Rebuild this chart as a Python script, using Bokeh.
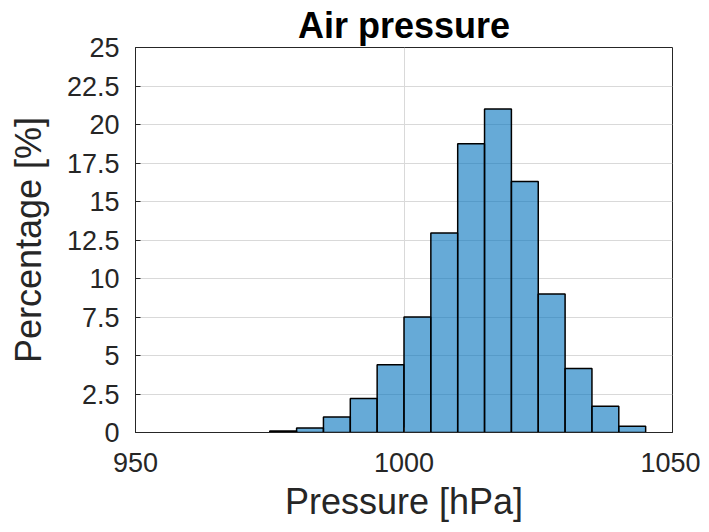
from bokeh.plotting import figure
from bokeh.models import FixedTicker, CustomJSTickFormatter, Range1d, ColumnDataSource
from bokeh.embed import file_html
from bokeh.resources import INLINE

# Data
bin_left = [975, 980, 985, 990, 995, 1000, 1005, 1010, 1015, 1020, 1025, 1030, 1035, 1040]
bin_right = [980, 985, 990, 995, 1000, 1005, 1010, 1015, 1020, 1025, 1030, 1035, 1040, 1045]
percentage = [0.1, 0.3, 1.0, 2.2, 4.4, 7.5, 12.95, 18.75, 21.0, 16.3, 9.0, 4.15, 1.7, 0.4]
x_ticks = [950, 1000, 1050]
y_ticks = [0, 2.5, 5, 7.5, 10, 12.5, 15, 17.5, 20, 22.5, 25]

FONT = "Liberation Sans"
DARK = "#262626"

p = figure(width=700, height=524, output_backend="svg", toolbar_location=None,
           x_range=Range1d(950, 1050), y_range=Range1d(0, 25),
           min_border_left=135, min_border_right=28, min_border_top=45, min_border_bottom=92,
           title="Air pressure")

src = ColumnDataSource(dict(left=bin_left, right=bin_right, top=percentage,
                            bottom=[0] * len(percentage)))
p.quad(left="left", right="right", top="top", bottom="bottom", source=src,
       fill_color="#0072BD", fill_alpha=0.6, line_color="black", line_width=1.5)

p.title.text_font = FONT
p.title.text_font_size = "36px"
p.title.text_font_style = "bold"
p.title.align = "center"
p.title.text_color = "black"
p.title.standoff = 4

p.xaxis.ticker = FixedTicker(ticks=x_ticks)
p.yaxis.ticker = FixedTicker(ticks=y_ticks)
p.yaxis.formatter = CustomJSTickFormatter(code="return String(tick);")
p.xaxis.formatter = CustomJSTickFormatter(code="return String(tick);")

for ax in (p.xaxis, p.yaxis):
    ax.major_label_text_font = FONT
    ax.major_label_text_font_size = "27px"
    ax.major_label_text_color = DARK
    ax.axis_label_text_font = FONT
    ax.axis_label_text_font_size = "36px"
    ax.axis_label_text_font_style = "normal"
    ax.axis_label_text_color = DARK
    ax.axis_line_color = DARK
    ax.major_tick_line_color = DARK
    ax.major_tick_in = 5
    ax.major_tick_out = 0
    ax.minor_tick_line_color = None

p.xaxis.axis_label = "Pressure [hPa]"
p.yaxis.axis_label = "Percentage [%]"
p.xaxis.major_label_standoff = 20
p.yaxis.major_label_standoff = 16
p.xaxis.axis_label_standoff = 6
p.yaxis.axis_label_standoff = 15

p.outline_line_color = DARK
p.outline_line_width = 1
p.xgrid.grid_line_color = "#d9d9d9"
p.ygrid.grid_line_color = "#d9d9d9"
p.background_fill_color = "white"

open("out.html", "w").write(file_html(p, INLINE))
